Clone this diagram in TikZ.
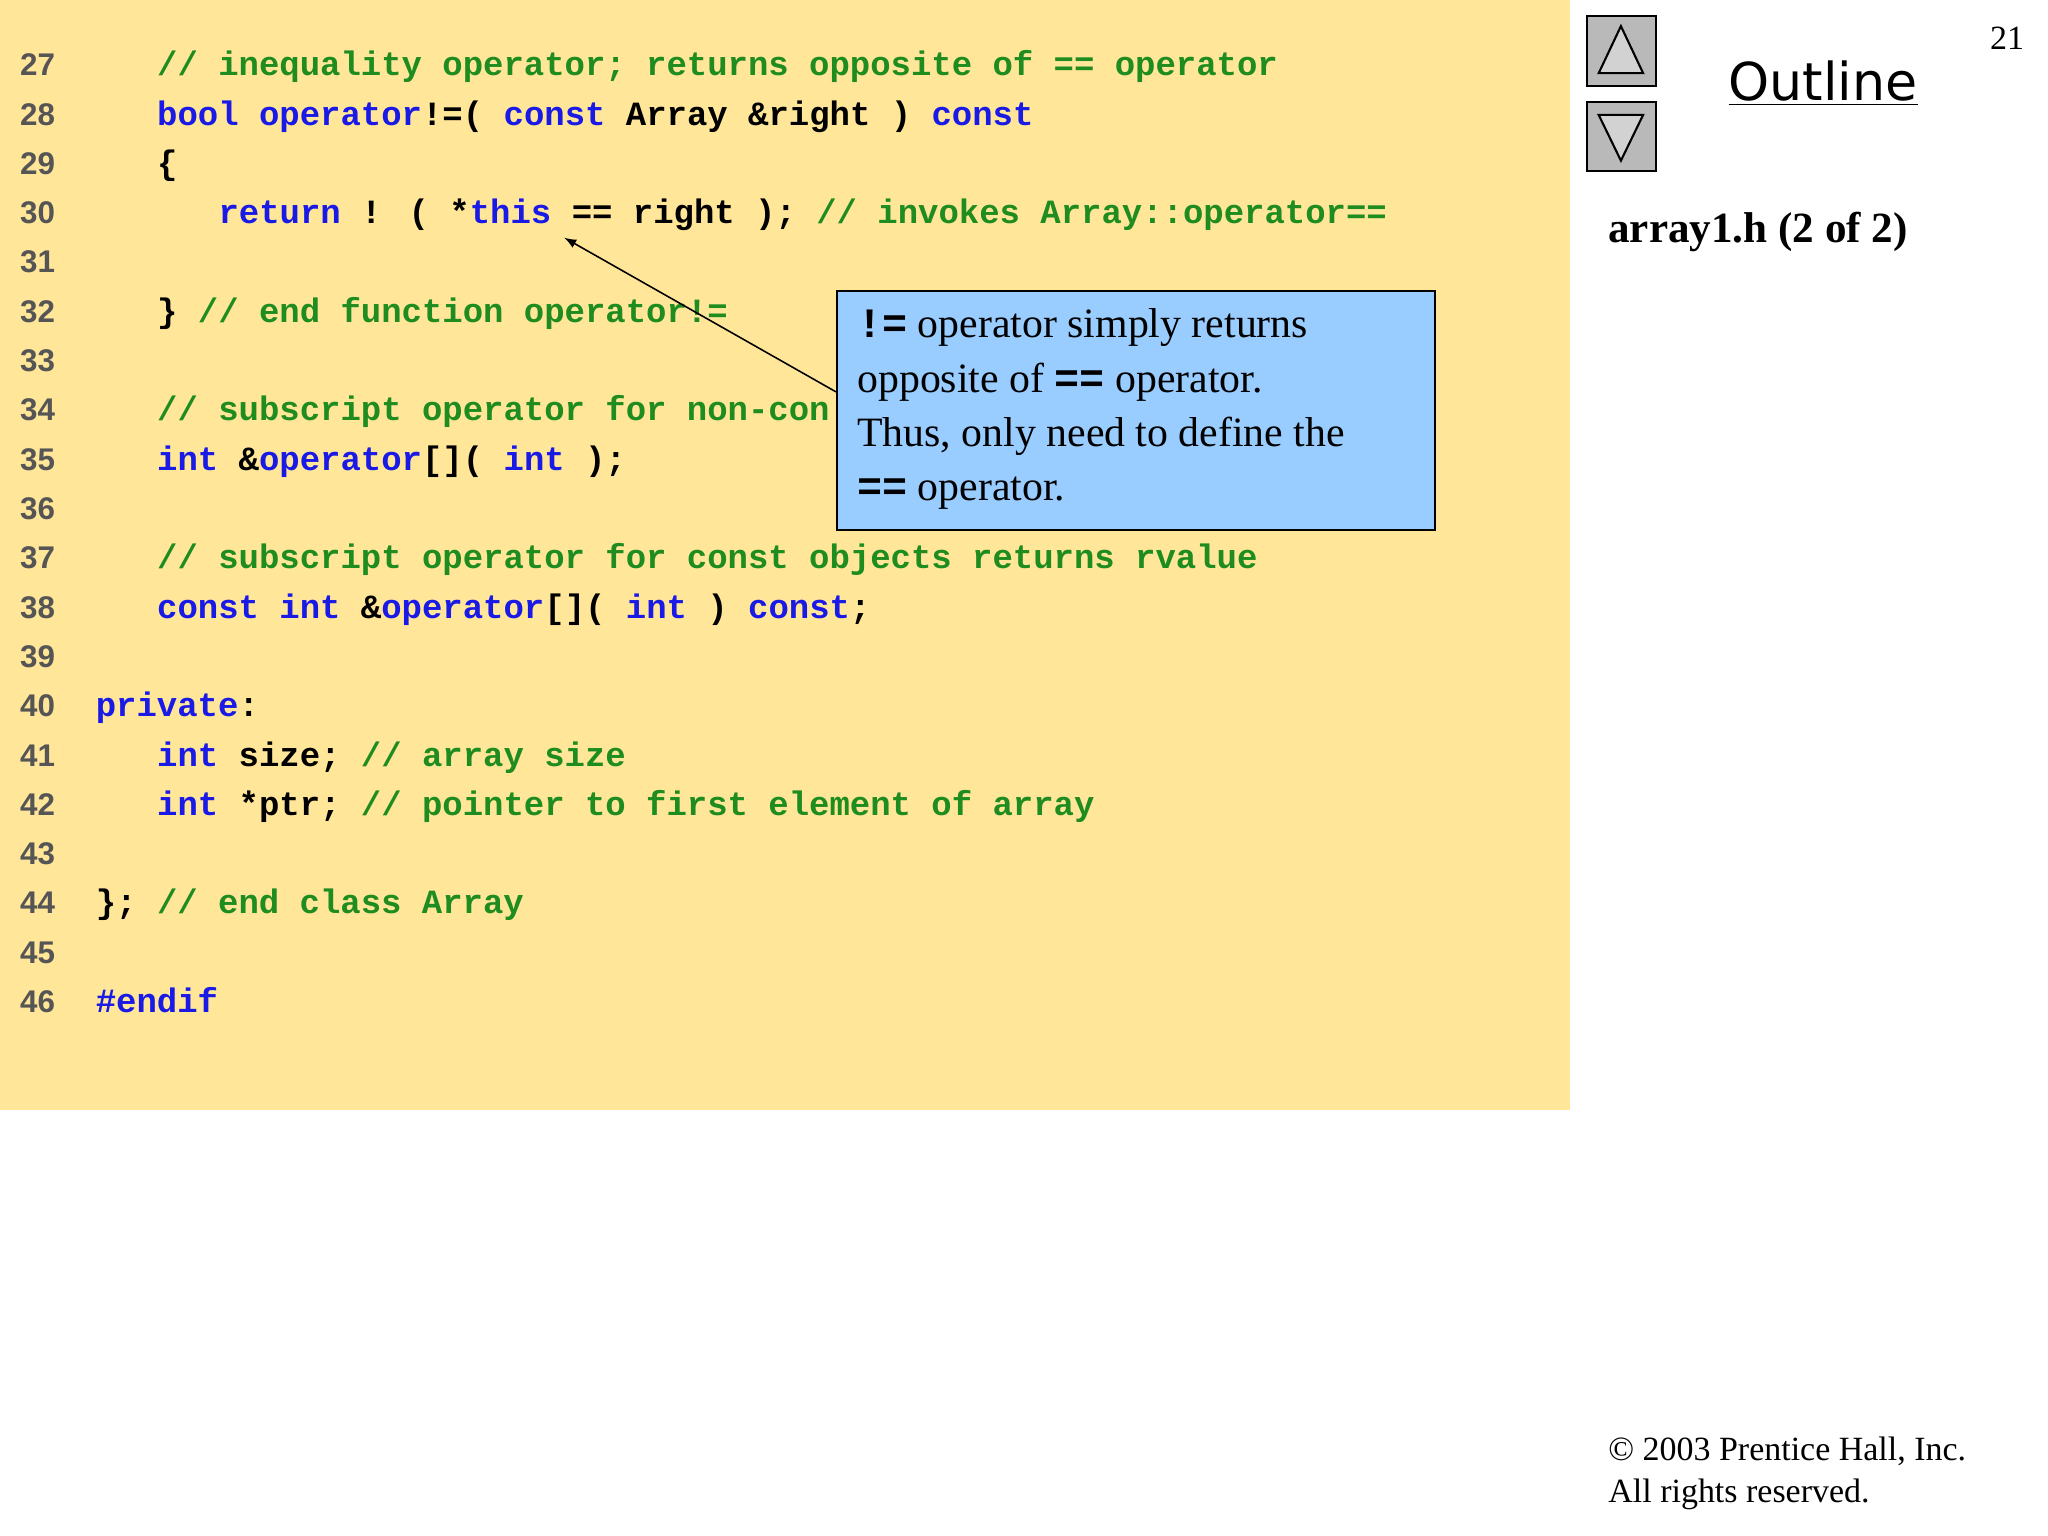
\documentclass[tikz,border=0pt]{standalone}
\usepackage{fontspec}
\setmainfont{Liberation Serif}
\newfontfamily\codefont{Liberation Mono}
\newfontfamily\numfont{Liberation Sans}
\newfontfamily\gothfont{DejaVu Sans}
\definecolor{bgy}{HTML}{FFE699}
\definecolor{kw}{HTML}{1A1AE6}
\definecolor{cm}{HTML}{1E8C1E}
\definecolor{boxb}{HTML}{99CCFF}
\definecolor{numg}{HTML}{555555}
\newcommand\Kw[1]{\textcolor{kw}{#1}}
\newcommand\Cm[1]{\textcolor{cm}{#1}}
\tikzset{
 codeline/.style={anchor=base west,inner sep=0pt,font=\codefont\bfseries\fontsize{13}{15}\selectfont},
 numline/.style={anchor=base west,inner sep=0pt,font=\numfont\bfseries\fontsize{12}{14}\selectfont,text=numg},
 btn/.style={draw=black,fill=gray!55,line width=0.8pt}
}
\begin{document}
\begin{tikzpicture}[x=0.5pt,y=-0.5pt]
\useasboundingbox (0,0) rectangle (1568,1176);
\fill[white] (0,0) rectangle (1568,1176);
\fill[bgy] (0,0) rectangle (1202,850);
\foreach \n [count=\i from 0] in {27,...,46}{
  \node[numline] (n\n) at (15,{58+37.75*\i}) {\n};
}
\def\cx#1{73+15.65*#1}
\node[codeline] (c27) at ({\cx3},58) {\Cm{// inequality operator; returns opposite of == operator}};
\node[codeline] (c28) at ({\cx3},95.75) {\Kw{bool} \Kw{operator}!=( \Kw{const} Array \&right ) \Kw{const}};
\node[codeline] (c29) at ({\cx3},133.5) {\{};
\node[codeline] (c30) at ({\cx6},171.25) {\Kw{return} ! ( *\Kw{this} == right ); \Cm{// invokes Array::operator==}};
\node[codeline] (c32) at ({\cx3},246.75) {\} \Cm{// end function operator!=}};
\node[codeline] (c34) at ({\cx3},322.25) {\Cm{// subscript operator for non-con}};
\node[codeline] (c35) at ({\cx3},360) {\Kw{int} \&\Kw{operator}[]( \Kw{int} );};
\node[codeline] (c37) at ({\cx3},435.5) {\Cm{// subscript operator for const objects returns rvalue}};
\node[codeline] (c38) at ({\cx3},473.25) {\Kw{const} \Kw{int} \&\Kw{operator}[]( \Kw{int} ) \Kw{const};};
\node[codeline] (c40) at ({\cx0},548.75) {\Kw{private}:};
\node[codeline] (c41) at ({\cx3},586.5) {\Kw{int} size; \Cm{// array size}};
\node[codeline] (c42) at ({\cx3},624.25) {\Kw{int} *ptr; \Cm{// pointer to first element of array}};
\node[codeline] (c44) at ({\cx0},699.75) {\}; \Cm{// end class Array}};
\node[codeline] (c46) at ({\cx0},775.25) {\Kw{\#endif}};
% callout
\node[draw=black,fill=boxb,line width=0.8pt,minimum width=229pt,minimum height=91.5pt,anchor=north west,inner sep=0pt] (box) at (640,222) {};
\node[anchor=north west,inner sep=0pt,align=left,font=\fontsize{16}{20.8}\selectfont] (boxt) at (656,236)
 {{\codefont\bfseries !=} operator simply returns\\
  opposite of {\codefont\bfseries ==} operator.\\
  Thus, only need to define the\\
  {\codefont\bfseries ==} operator.};
\coordinate (ap) at (640,300);
\coordinate (tg) at (432,182);
\draw[-latex,line width=0.6pt] (ap) -- (tg);
% buttons
\draw[btn] (1215,12) rectangle (1268,66);
\draw[btn] (1215,78) rectangle (1268,131);
\draw[line width=0.8pt,fill=gray!35] (1241,20) -- (1258,56) -- (1224,56) -- cycle;
\draw[line width=0.8pt,fill=gray!35] (1224,88) -- (1258,88) -- (1241,123) -- cycle;
\node[anchor=base west,inner sep=0pt,font=\gothfont\fontsize{20}{24}\selectfont] (ol) at (1323,77) {\underline{Outline}};
\node[anchor=base west,inner sep=0pt,font=\bfseries\fontsize{16.5}{20}\selectfont] (fn) at (1231,186) {array1.h (2 of 2)};
\node[anchor=base east,inner sep=0pt,font=\fontsize{13}{15}\selectfont] (pg) at (1550,38) {21};
\node[anchor=north west,inner sep=0pt,align=left,font=\fontsize{13}{16}\selectfont] (cp) at (1231,1100) {© 2003 Prentice Hall, Inc.\\All rights reserved.};
\end{tikzpicture}
\end{document}
